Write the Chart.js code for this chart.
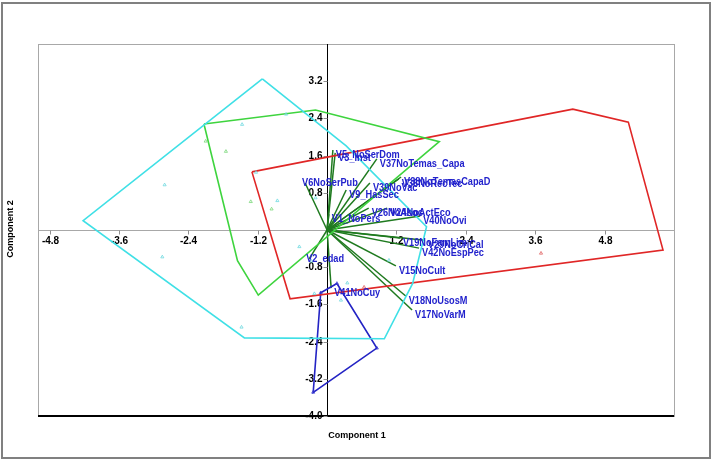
<!DOCTYPE html>
<html><head><meta charset="utf-8">
<script src="https://cdn.jsdelivr.net/npm/chart.js@4"></script>
<style>html,body{margin:0;padding:0;background:#fff;overflow:hidden}</style>
</head><body>
<canvas id="c" width="713" height="461"></canvas>
<script>
// ---- tick labels ----
const xTicks = [-4.8, -3.6, -2.4, -1.2, 1.2, 2.4, 3.6, 4.8];
const yTicks = [3.2, 2.4, 1.6, 0.8, -0.8, -1.6, -2.4, -3.2, -4.0];

// ---- group hulls (Component 1, Component 2) ----
const hullCyan  = [[-1.12, 3.25], [0.33, 1.81], [1.72, 0.07], [1.48, -1.15], [0.99, -2.34], [-1.43, -2.32], [-4.22, 0.20]];
const hullGreen = [[-2.13, 2.28], [-0.20, 2.58], [1.94, 1.90], [-1.19, -1.40], [-1.55, -0.66]];
const hullRed   = [[-1.30, 1.25], [4.25, 2.60], [5.21, 2.32], [5.81, -0.43], [-0.64, -1.48]];
const hullBlue  = [[0.17, -1.15], [0.86, -2.54], [-0.24, -3.49], [-0.11, -1.35]];

// ---- observation scores ----
const pointsCyan  = [[-2.81, 0.97], [-2.85, -0.58], [-1.47, 2.27], [-1.23, 1.24], [-0.86, 0.63], [-0.48, -0.36], [-0.71, 2.49], [-1.48, -2.09], [-0.20, 0.69], [-0.22, -1.37], [-0.27, -0.67], [1.07, -0.65], [0.35, -1.14], [0.24, -1.51]];
const pointsGreen = [[-2.10, 1.91], [-1.75, 1.69], [-1.32, 0.61], [-0.96, 0.45]];
const pointsRed   = [[3.70, -0.50], [0.64, -1.23]];
const pointsBlue  = [[0.17, -1.15], [0.86, -2.54], [-0.24, -3.49], [-0.11, -1.35]];

// ---- variable loadings (biplot vectors) ----
const vectorNames = ["V5_NoSerDom", "V3_Inst", "V37NoTemas_Capa", "V6NoSerPub", "V36NoRecTec", "V38NoTemasCapaD", "V39NoVac", "V9_HasSec", "V26NoAsoc", "V24NoActEco", "V40NoOvi", "V1_NoPers", "V19NoFamLim", "V29NoCriCal", "V42NoEspPec", "V15NoCult", "V18NoUsosM", "V17NoVarM", "V41NoCuy", "V2_edad"];
const vectorX = [0.10, 0.14, 0.86, -0.38, 1.24, 1.28, 0.74, 0.33, 0.72, 1.04, 1.61, 0.03, 1.26, 1.69, 1.59, 1.19, 1.36, 1.47, 0.07, -0.31];
const vectorY = [1.72, 1.66, 1.53, 1.01, 1.10, 1.14, 1.01, 0.86, 0.47, 0.47, 0.30, 0.34, -0.17, -0.22, -0.39, -0.77, -1.42, -1.72, -1.25, -0.62];

const toXY = arr => arr.map(p => ({x: p[0], y: p[1]}));
const closed = arr => toXY(arr.concat([arr[0]]));

function hull(data, color) {
  return {type: 'scatter', data: closed(data), showLine: true, borderColor: color, borderWidth: 1.6,
          pointRadius: 0, fill: false, tension: 0};
}
function pts(data, color) {
  return {type: 'scatter', data: toXY(data), showLine: false, pointStyle: 'triangle', pointRadius: 1.8,
          borderWidth: 0.8, borderColor: color, backgroundColor: 'rgba(0,0,0,0)'};
}
const datasets = [
  pts(pointsCyan, '#6fd9e0'), pts(pointsGreen, '#7ad87a'), pts(pointsRed, '#e06060'), pts(pointsBlue, '#3a3ad0'),
  hull(hullCyan, '#3fe0e6'), hull(hullGreen, '#3ed43e'), hull(hullRed, '#e02626'), hull(hullBlue, '#2323c4')
];
vectorNames.forEach((n, i) => {
  datasets.push({type: 'scatter', data: [{x: 0, y: 0}, {x: vectorX[i], y: vectorY[i]}], showLine: true,
    borderColor: '#1f7a1f', borderWidth: 1.5, pointRadius: 0, fill: false});
});

const deco = {
  id: 'deco',
  beforeDraw(chart) {
    const c = chart.ctx;
    c.save();
    c.fillStyle = '#fff';
    c.fillRect(0, 0, chart.width, chart.height);
    c.strokeStyle = '#808080';
    c.lineWidth = 2;
    c.strokeRect(2, 3, 708, 455);
    c.restore();
  },
  beforeDatasetsDraw(chart) {
    const c = chart.ctx, a = chart.chartArea, sx = chart.scales.x, sy = chart.scales.y;
    const x0 = Math.round(sx.getPixelForValue(0)) + 0.5, y0 = Math.round(sy.getPixelForValue(0)) + 0.5;
    c.save();
    c.lineWidth = 1;
    c.strokeStyle = '#a8a8a8';
    c.strokeRect(Math.round(a.left) + 0.5, Math.round(a.top) + 0.5, Math.round(a.right - a.left), Math.round(a.bottom - a.top));
    // x axis line (gray) and y axis line (black)
    c.beginPath(); c.moveTo(a.left, y0); c.lineTo(a.right, y0); c.stroke();
    c.strokeStyle = '#000';
    c.beginPath(); c.moveTo(x0, a.top); c.lineTo(x0, a.bottom); c.stroke();
    c.lineWidth = 2;
    c.beginPath(); c.moveTo(a.left, Math.round(a.bottom)); c.lineTo(a.right, Math.round(a.bottom)); c.stroke();
    // ticks
    c.font = 'bold 10px "Liberation Sans", Arial, sans-serif';
    c.fillStyle = '#000';
    c.lineWidth = 1;
    c.strokeStyle = '#909090';
    c.textAlign = 'center'; c.textBaseline = 'middle';
    xTicks.forEach(v => {
      const px = Math.round(sx.getPixelForValue(v)) + 0.5;
      c.beginPath(); c.moveTo(px, y0); c.lineTo(px, y0 + 4); c.stroke();
      c.fillText(v.toFixed(1), px, y0 + 11);
    });
    c.textAlign = 'right';
    yTicks.forEach(v => {
      const py = Math.round(sy.getPixelForValue(v)) + 0.5;
      c.beginPath(); c.moveTo(x0 - 4, py); c.lineTo(x0, py); c.stroke();
      c.fillText(v.toFixed(1), x0 - 5, py);
    });
    c.restore();
  },
  afterDatasetsDraw(chart) {
    const c = chart.ctx, sx = chart.scales.x, sy = chart.scales.y;
    c.save();
    c.font = 'bold 10px "Liberation Sans", Arial, sans-serif';
    c.fillStyle = '#2222cc';
    c.textAlign = 'left'; c.textBaseline = 'middle';
    vectorNames.forEach((n, i) => {
      const px = sx.getPixelForValue(vectorX[i]), py = sy.getPixelForValue(vectorY[i]);
      const tx = vectorX[i] < 0 ? px - 3 : px + 3;
      const ty = vectorX[i] < 0 ? py : py + 5;
      c.save(); c.translate(tx, ty); c.scale(0.92, 1); c.fillText(n, 0, 0); c.restore();
    });
    // axis titles
    c.fillStyle = '#000';
    c.font = 'bold 9px "Liberation Sans", Arial, sans-serif';
    c.textAlign = 'center';
    c.fillText('Component 1', 357, 436);
    c.save(); c.translate(11, 229); c.rotate(-Math.PI / 2); c.fillText('Component 2', 0, 0); c.restore();
    c.restore();
  }
};

new Chart(document.getElementById('c'), {
  type: 'scatter',
  data: {datasets},
  options: {
    responsive: false, animation: false, devicePixelRatio: 1,
    layout: {padding: {left: 38, top: 44, right: 39, bottom: 45}},
    plugins: {legend: {display: false}, tooltip: {enabled: false}},
    scales: {
      x: {type: 'linear', min: -5, max: 6, display: false},
      y: {type: 'linear', min: -4, max: 4, display: false}
    }
  },
  plugins: [deco]
});
</script>
</body></html>
